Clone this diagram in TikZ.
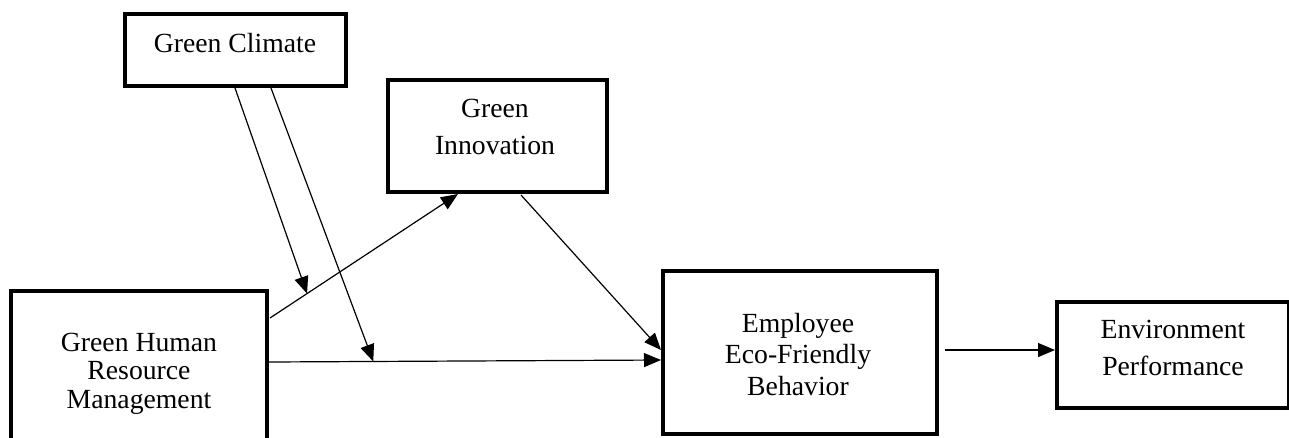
\documentclass[tikz,border=0pt]{standalone}
\usepackage{fontspec}
\setmainfont{Liberation Serif}
\usetikzlibrary{arrows.meta,calc}

\tikzset{
  box/.style={draw=black, line width=4pt, fill=white, inner sep=0pt, outer sep=0pt},
  txt/.style={anchor=base, inner sep=0pt, font=\fontsize{27.7}{31}\selectfont},
  link/.style={line width=1.2pt, -{Triangle[length=17pt,width=14pt]}}
}

\begin{document}
\begin{tikzpicture}[x=1pt, y=-1pt]
  \useasboundingbox (0,0) rectangle (1289,437);
  \clip (0,0) rectangle (1289,437);
  \fill[white] (0,0) rectangle (1289,437);

  % construct boxes
  \node[box, minimum width=221pt, minimum height=72pt]  (gc)   at (235.5,50)  {};
  \node[box, minimum width=219pt, minimum height=112pt] (gi)   at (497.5,136) {};
  \node[box, minimum width=256pt, minimum height=169pt] (ghrm) at (139,375.5) {};
  \node[box, minimum width=274pt, minimum height=163pt] (eefb) at (800,352.5) {};
  \node[box, minimum width=232pt, minimum height=106pt] (ep)   at (1173,355)  {};

  % labels
  \node[txt] (gc1)   at (235,52)  {Green Climate};
  \node[txt] (gi1)   at (495,117) {Green};
  \node[txt] (gi2)   at (495,154) {Innovation};
  \node[txt] (ghrm1) at (139,351) {Green Human};
  \node[txt] (ghrm2) at (139,379) {Resource};
  \node[txt] (ghrm3) at (139,408) {Management};
  \node[txt] (eefb1) at (798,332) {Employee};
  \node[txt] (eefb2) at (798,363.5) {Eco-Friendly};
  \node[txt] (eefb3) at (798,395) {Behavior};
  \node[txt] (ep1)   at (1173,338) {Environment};
  \node[txt] (ep2)   at (1173,375) {Performance};

  % end points of the direct paths
  \coordinate (a1) at ($(ghrm.north east)+(3,27)$);
  \coordinate (a2) at ($(gi.south west)+(70,2)$);
  \coordinate (b1) at ($(ghrm.north east)+(2,71)$);
  \coordinate (b2) at ($(eefb.north west)+(-2,89)$);
  \coordinate (c1) at ($(gi.south west)+(133,3)$);
  \coordinate (c2) at ($(eefb.north west)+(-2,79)$);
  \coordinate (d1) at ($(eefb.east)+(8,-2.5)$);
  \coordinate (d2) at ($(ep.west)+(-2,-5)$);
  \coordinate (g1) at ($(gc.south)+(-0.5,2)$);
  \coordinate (g2) at ($(gc.south)+(35.5,2)$);

  % moderation targets on the direct paths
  \path (a1) -- (a2) coordinate[pos=0.197] (m1);
  \path (b1) -- (b2) coordinate[pos=0.266] (m2);

  % connectors
  \draw[link] (a1) -- (a2);
  \draw[link] (b1) -- (b2);
  \draw[link] (c1) -- (c2);
  \draw[link] (d1) -- (d2);
  \draw[link] (g1) -- (m1);
  \draw[link] (g2) -- (m2);
\end{tikzpicture}
\end{document}
